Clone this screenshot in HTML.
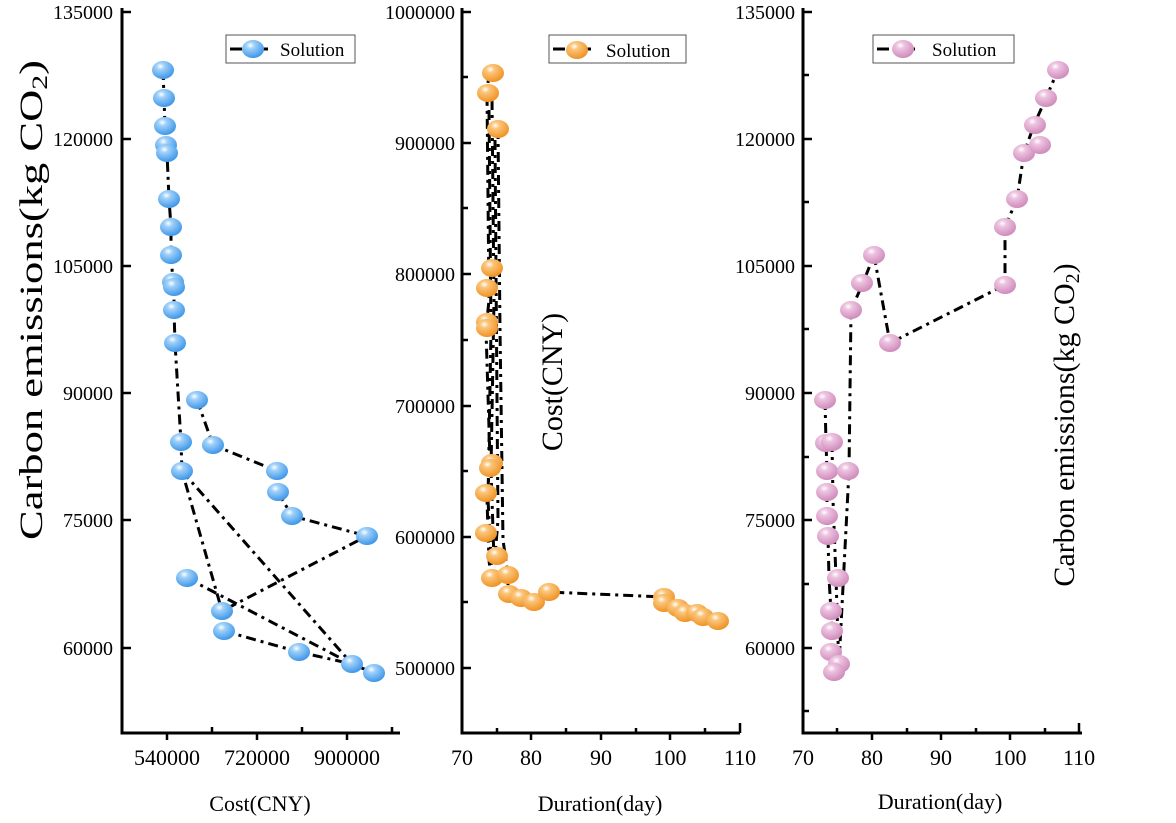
<!DOCTYPE html>
<html><head><meta charset="utf-8"><style>body{margin:0;background:#fff}svg{display:block}text{font-family:"Liberation Serif",serif;fill:#000}</style></head>
<body>
<svg width="1176" height="823" viewBox="0 0 1176 823" xmlns="http://www.w3.org/2000/svg">
<defs>
<radialGradient id="gb" cx="0.38" cy="0.3" r="0.75"><stop offset="0" stop-color="#fff"/><stop offset="0.25" stop-color="#9fd0fa"/><stop offset="1" stop-color="#3592e6"/></radialGradient>
<radialGradient id="go" cx="0.38" cy="0.3" r="0.75"><stop offset="0" stop-color="#fff"/><stop offset="0.25" stop-color="#fbc57a"/><stop offset="1" stop-color="#ee8e1c"/></radialGradient>
<radialGradient id="gp" cx="0.38" cy="0.3" r="0.75"><stop offset="0" stop-color="#fff"/><stop offset="0.25" stop-color="#edc3e0"/><stop offset="1" stop-color="#cc86b8"/></radialGradient>
</defs>
<g stroke="#000" stroke-width="3" fill="none">
<path d="M122,8V733H400"/><path d="M462,8V733H740"/><path d="M803,8V733H1082"/>
</g>
<g stroke="#000" stroke-width="2.5">
<path d="M122,12h9M122,139h9M122,266h9M122,393h9M122,520h9M122,648h9M167,733v7M212,733v-6M257,733v7M302,733v-6M347,733v7M392,733v-6"/>
<path d="M462,12h9M462,143h9M462,274h9M462,406h9M462,537h9M462,668h9M462,77h6M462,208h6M462,340h6M462,471h6M462,602h6M531,733v7M601,733v7M670,733v7M740,733v-10M497,733v-5M566,733v-5M636,733v-5M705,733v-5"/>
<path d="M803,12h9M803,139h9M803,266h9M803,393h9M803,520h9M803,648h9M803,75h6M803,202h6M803,329h6M803,457h6M803,584h6M803,711h6M872,733v7M941,733v7M1010,733v7M1079,733v-10M837,733v-5M907,733v-5M976,733v-5M1045,733v-5"/>
</g>
<g font-size="20" text-anchor="end">
<text x="113" y="19">135000</text><text x="113" y="146">120000</text><text x="113" y="273">105000</text><text x="113" y="400">90000</text><text x="113" y="527">75000</text><text x="113" y="655">60000</text>
<text x="455" y="19">1000000</text><text x="455" y="150">900000</text><text x="455" y="281">800000</text><text x="455" y="413">700000</text><text x="455" y="544">600000</text><text x="455" y="675">500000</text>
<text x="795" y="19">135000</text><text x="795" y="146">120000</text><text x="795" y="273">105000</text><text x="795" y="400">90000</text><text x="795" y="527">75000</text><text x="795" y="655">60000</text>
</g>
<g font-size="22" text-anchor="middle">
<text x="167" y="765">540000</text><text x="257" y="765">720000</text><text x="347" y="765">900000</text>
<text x="462" y="765">70</text><text x="531" y="765">80</text><text x="601" y="765">90</text><text x="670" y="765">100</text><text x="740" y="765">110</text>
<text x="803" y="765">70</text><text x="872" y="765">80</text><text x="941" y="765">90</text><text x="1010" y="765">100</text><text x="1079" y="765">110</text>
<text x="260" y="811">Cost(CNY)</text><text x="600" y="811">Duration(day)</text><text x="940" y="809">Duration(day)</text>
</g>
<text font-size="33" transform="translate(42,540) rotate(-90)" textLength="480" lengthAdjust="spacingAndGlyphs">Carbon emissions(kg CO<tspan font-size="22" dy="5">2</tspan><tspan dy="-5">)</tspan></text>
<text font-size="30" text-anchor="middle" transform="translate(562,382) rotate(-90)">Cost(CNY)</text>
<text font-size="30" text-anchor="middle" transform="translate(1074,425) rotate(-90)">Carbon emissions(kg CO<tspan font-size="20" dy="5">2</tspan><tspan dy="-5">)</tspan></text>
<g stroke="#000" stroke-width="3" fill="none" stroke-dasharray="10,5,3,5">
<polyline points="163,70 164,98 165,126 166,145 167,153 169,199 171,227 171,255 173,282 174,287 174,310 175,343 181,442 182,471 222,611"/>
<polyline points="197,400 213,445 277,471 278,492 292,516 367,536 222,611"/>
<polyline points="182,471 352,664"/>
<polyline points="187,578 352,664"/>
<polyline points="224,631 299,652 352,664 374,673"/>
<polyline points="489,73 487,93 489,300 486,330 490,460 487,500 489,560 491,578"/>
<polyline points="492,100 494,300 491,470 494,560 495,556"/>
<polyline points="489,110 491,330 488,500 492,575"/>
<polyline points="498,129 500,330 503,540 508,575"/>
<polyline points="495,140 497,400 498,520 495,556"/>
<polyline points="508,575 508,593 521,598 534,602 548,592 664,597 664,603 677,608 685,613 697,613 702,617 717,621"/>
<polyline points="825,400 826,443 827,471 827,492 827,516 828,536 829,578 831,611 832,631 831,652 834,672"/>
<polyline points="832,442 833,500 836,578 838,640 839,664"/>
<polyline points="839,664 849,471 851,310 863,283 874,255 890,343 1005,285 1005,227 1017,199 1024,153 1034,125 1046,98 1058,70"/>
</g>
<g fill="url(#gb)">
<ellipse cx="163" cy="70" rx="11" ry="9"/><ellipse cx="164" cy="98" rx="11" ry="9"/><ellipse cx="165" cy="126" rx="11" ry="9"/><ellipse cx="166" cy="145" rx="11" ry="9"/><ellipse cx="167" cy="153" rx="11" ry="9"/><ellipse cx="169" cy="199" rx="11" ry="9"/><ellipse cx="171" cy="227" rx="11" ry="9"/><ellipse cx="171" cy="255" rx="11" ry="9"/><ellipse cx="173" cy="282" rx="11" ry="9"/><ellipse cx="174" cy="287" rx="11" ry="9"/><ellipse cx="174" cy="310" rx="11" ry="9"/><ellipse cx="175" cy="343" rx="11" ry="9"/><ellipse cx="197" cy="400" rx="11" ry="9"/><ellipse cx="181" cy="442" rx="11" ry="9"/><ellipse cx="213" cy="445" rx="11" ry="9"/><ellipse cx="182" cy="471" rx="11" ry="9"/><ellipse cx="277" cy="471" rx="11" ry="9"/><ellipse cx="278" cy="492" rx="11" ry="9"/><ellipse cx="292" cy="516" rx="11" ry="9"/><ellipse cx="367" cy="536" rx="11" ry="9"/><ellipse cx="187" cy="578" rx="11" ry="9"/><ellipse cx="222" cy="611" rx="11" ry="9"/><ellipse cx="224" cy="631" rx="11" ry="9"/><ellipse cx="299" cy="652" rx="11" ry="9"/><ellipse cx="352" cy="664" rx="11" ry="9"/><ellipse cx="374" cy="673" rx="11" ry="9"/>
</g>
<g fill="url(#go)">
<ellipse cx="493" cy="73" rx="11" ry="9"/><ellipse cx="488" cy="93" rx="11" ry="9"/><ellipse cx="498" cy="129" rx="11" ry="9"/><ellipse cx="492" cy="268" rx="11" ry="9"/><ellipse cx="487" cy="288" rx="11" ry="9"/><ellipse cx="487" cy="322" rx="11" ry="9"/><ellipse cx="487" cy="328" rx="11" ry="9"/><ellipse cx="492" cy="463" rx="11" ry="9"/><ellipse cx="490" cy="468" rx="11" ry="9"/><ellipse cx="486" cy="493" rx="11" ry="9"/><ellipse cx="486" cy="533" rx="11" ry="9"/><ellipse cx="497" cy="556" rx="11" ry="9"/><ellipse cx="492" cy="578" rx="11" ry="9"/><ellipse cx="508" cy="575" rx="11" ry="9"/><ellipse cx="509" cy="594" rx="11" ry="9"/><ellipse cx="521" cy="598" rx="11" ry="9"/><ellipse cx="534" cy="602" rx="11" ry="9"/><ellipse cx="549" cy="592" rx="11" ry="9"/><ellipse cx="664" cy="597" rx="11" ry="9"/><ellipse cx="664" cy="603" rx="11" ry="9"/><ellipse cx="678" cy="608" rx="11" ry="9"/><ellipse cx="685" cy="613" rx="11" ry="9"/><ellipse cx="697" cy="613" rx="11" ry="9"/><ellipse cx="703" cy="617" rx="11" ry="9"/><ellipse cx="718" cy="621" rx="11" ry="9"/>
</g>
<g fill="url(#gp)">
<ellipse cx="825" cy="400" rx="11" ry="9"/><ellipse cx="826" cy="443" rx="11" ry="9"/><ellipse cx="832" cy="442" rx="11" ry="9"/><ellipse cx="827" cy="471" rx="11" ry="9"/><ellipse cx="827" cy="492" rx="11" ry="9"/><ellipse cx="827" cy="516" rx="11" ry="9"/><ellipse cx="828" cy="536" rx="11" ry="9"/><ellipse cx="838" cy="578" rx="11" ry="9"/><ellipse cx="831" cy="611" rx="11" ry="9"/><ellipse cx="832" cy="631" rx="11" ry="9"/><ellipse cx="831" cy="652" rx="11" ry="9"/><ellipse cx="839" cy="664" rx="11" ry="9"/><ellipse cx="834" cy="672" rx="11" ry="9"/><ellipse cx="848" cy="471" rx="11" ry="9"/><ellipse cx="851" cy="310" rx="11" ry="9"/><ellipse cx="862" cy="283" rx="11" ry="9"/><ellipse cx="874" cy="255" rx="11" ry="9"/><ellipse cx="890" cy="343" rx="11" ry="9"/><ellipse cx="1005" cy="285" rx="11" ry="9"/><ellipse cx="1005" cy="227" rx="11" ry="9"/><ellipse cx="1017" cy="199" rx="11" ry="9"/><ellipse cx="1024" cy="153" rx="11" ry="9"/><ellipse cx="1040" cy="145" rx="11" ry="9"/><ellipse cx="1035" cy="125" rx="11" ry="9"/><ellipse cx="1046" cy="98" rx="11" ry="9"/><ellipse cx="1058" cy="70" rx="11" ry="9"/>
</g>
<g stroke="#555" stroke-width="1" fill="#fff"><rect x="226" y="35" width="129" height="28"/><rect x="549" y="35" width="137" height="28"/><rect x="873" y="35" width="141" height="28"/></g>
<g stroke="#000" stroke-width="3" stroke-dasharray="12,4"><path d="M230,49h38"/><path d="M553,49h38"/><path d="M877,49h38"/></g>
<ellipse cx="253" cy="49" rx="11" ry="9" fill="url(#gb)"/><ellipse cx="577" cy="50" rx="11" ry="9" fill="url(#go)"/><ellipse cx="903" cy="49" rx="11" ry="9" fill="url(#gp)"/>
<g font-size="19"><text x="280" y="56">Solution</text><text x="606" y="57">Solution</text><text x="932" y="56">Solution</text></g>
</svg>
</body></html>
